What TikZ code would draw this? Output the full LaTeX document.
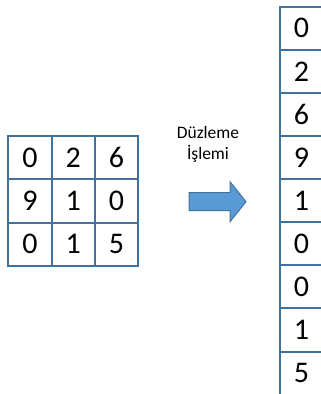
\documentclass[tikz,border=0pt]{standalone}
\usepackage{fontspec}
\setmainfont{Carlito}
\definecolor{gridblue}{HTML}{41719C}
\definecolor{arrowfill}{HTML}{5B9BD5}
\begin{document}
\begin{tikzpicture}[x=1pt,y=-1pt,
  cell/.style={draw=gridblue,line width=2pt,minimum width=43.3pt,minimum height=43.3pt,inner sep=0pt,font=\fontsize{30}{30}\selectfont},
  vcell/.style={draw=gridblue,line width=2pt,minimum width=43.1pt,minimum height=43.1pt,inner sep=0pt,font=\fontsize{30}{30}\selectfont},
  lbl/.style={font=\fontsize{17.5}{21}\selectfont,align=center}]
\useasboundingbox (0,0) rectangle (321,394);
% left 3x3 grid
\foreach \r/\a/\b/\c in {0/0/2/6,1/9/1/0,2/0/1/5}{
  \node[cell] (g\r0) at ({8.3+21.65},{136+21.65+43.3*\r}) {\a};
  \node[cell] (g\r1) at ({8.3+21.65+43.3},{136+21.65+43.3*\r}) {\b};
  \node[cell] (g\r2) at ({8.3+21.65+86.6},{136+21.65+43.3*\r}) {\c};
}
% label
\node[lbl] (t) at (208,144) {Düzleme\\İşlemi};
% arrow
\draw[draw=gridblue,fill=arrowfill,line width=1pt,line join=miter]
  (189,192.7) -- (230,192.7) -- (230,181.7) -- (246,201.7) -- (230,221.7) -- (230,210.7) -- (189,210.7) -- cycle;
% right column
\foreach \v [count=\i from 0] in {0,2,6,9,1,0,0,1,5}{
  \node[vcell] (v\i) at ({280+21.55},{6.7+21.55+43.1*\i}) {\v};
}
\end{tikzpicture}
\end{document}
